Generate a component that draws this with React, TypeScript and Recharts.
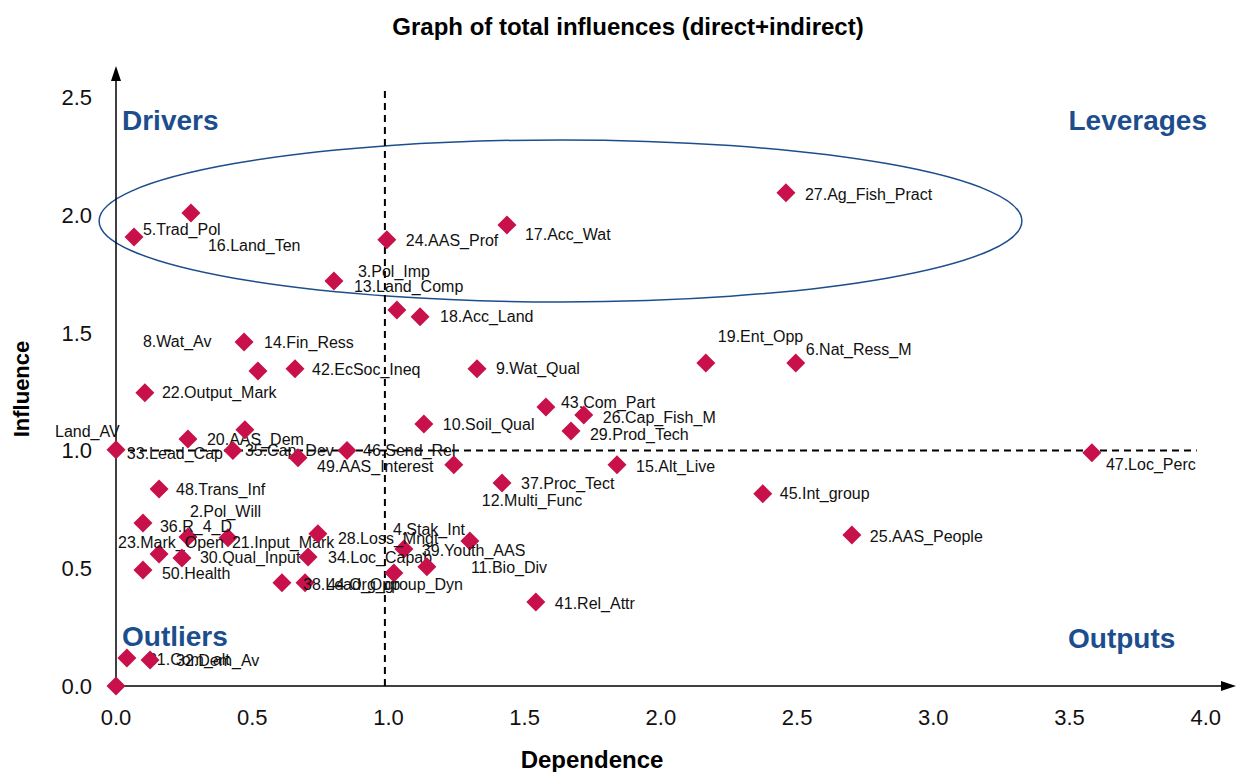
import React from 'react';
import {
  ScatterChart,
  Scatter,
  XAxis,
  YAxis,
  ReferenceLine,
  ReferenceArea,
  ReferenceDot,
} from 'recharts';

// ---------- data ----------
const variables = [
  'Land_AV', '2.Pol_Will', '3.Pol_Imp', '4.Stak_Int', '5.Trad_Pol', '6.Nat_Ress_M', '7', '8.Wat_Av',
  '9.Wat_Qual', '10.Soil_Qual', '11.Bio_Div', '12.Multi_Func', '13.Land_Comp', '14.Fin_Ress',
  '15.Alt_Live', '16.Land_Ten', '17.Acc_Wat', '18.Acc_Land', '19.Ent_Opp', '20.AAS_Dem',
  '21.Input_Mark', '22.Output_Mark', '23.Mark_Open', '24.AAS_Prof', '25.AAS_People',
  '26.Cap_Fish_M', '27.Ag_Fish_Pract', '28.Loss_Mngt', '29.Prod_Tech', '30.Qual_Input',
  '31.Com_alt', '32.Dem_Av', '33.Lead_Cap', '34.Loc_Capab', '35.Cap_Dev', '36.R_4_D',
  '37.Proc_Tect', '38.Lead_Opp', '39.Youth_AAS', '40', '41.Rel_Attr', '42.EcSoc_Ineq',
  '43.Com_Part', '44.Org_group_Dyn', '45.Int_group', '46.Send_Rel', '47.Loc_Perc',
  '48.Trans_Inf', '49.AAS_Interest', '50.Health',
];

const dependence = [
  0.0, 0.264, 0.8, 1.057, 0.066, 2.495, 1.02, 0.521,
  1.325, 1.13, 1.299, 1.24, 1.031, 0.47,
  1.839, 0.275, 1.435, 1.116, 2.165, 0.264,
  0.411, 0.106, 0.158, 0.994, 2.701,
  1.717, 2.459, 0.741, 1.67, 0.242,
  0.04, 0.125, 0.473, 0.705, 0.429, 0.099,
  1.417, 0.694, 1.141, 0.0, 1.541, 0.657,
  1.578, 0.609, 2.374, 0.848, 3.582,
  0.158, 0.668, 0.099,
];

const influence = [
  1.003, 0.633, 1.72, 0.582, 1.907, 1.372, 0.48, 1.338,
  1.347, 1.113, 0.616, 0.939, 1.597, 1.461,
  0.939, 2.009, 1.958, 1.568, 1.372, 1.049,
  0.629, 1.245, 0.561, 1.895, 0.641,
  1.151, 2.094, 0.646, 1.083, 0.544,
  0.119, 0.11, 1.088, 0.548, 1.0, 0.692,
  0.862, 0.438, 0.506, 0.0, 0.357, 1.347,
  1.185, 0.438, 0.816, 1.0, 0.99,
  0.837, 0.969, 0.493,
];

const xTicks = [0, 0.5, 1, 1.5, 2, 2.5, 3, 3.5, 4];
const yTicks = [0, 0.5, 1, 1.5, 2, 2.5];

const meanDependence = 0.987;
const meanInfluence = 1.0;

const chartTitle = 'Graph of total influences (direct+indirect)';
const xTitle = 'Dependence';
const yTitle = 'Influence';
const quadrantNames = ['Drivers', 'Leverages', 'Outliers', 'Outputs'];

// ---------- layout / style ----------
const W = 1237;
const H = 772;
const FONT = '"Liberation Sans", Arial, sans-serif';
const RED = '#C8104B';
const BLUE = '#1C4E8E';

// label placement relative to each marker (pixels)
const labelOffsets: Record<string, [number, number]> = {
  'Land_AV': [-61, -18],
  '2.Pol_Will': [2, -25],
  '3.Pol_Imp': [24, -9],
  '4.Stak_Int': [-11, -19],
  '5.Trad_Pol': [9, -7],
  '6.Nat_Ress_M': [10, -13],
  '8.Wat_Av': [-115, -29],
  '9.Wat_Qual': [19, 0],
  '10.Soil_Qual': [19, 1],
  '11.Bio_Div': [1, 27],
  '12.Multi_Func': [28, 36],
  '13.Land_Comp': [-43, -23],
  '14.Fin_Ress': [20, 1],
  '15.Alt_Live': [19, 2],
  '16.Land_Ten': [17, 33],
  '17.Acc_Wat': [18, 10],
  '18.Acc_Land': [20, 0],
  '19.Ent_Opp': [12, -26],
  '20.AAS_Dem': [19, 1],
  '21.Input_Mark': [4, 5],
  '22.Output_Mark': [17, 0],
  '23.Mark_Open': [-41, -11],
  '24.AAS_Prof': [19, 1],
  '25.AAS_People': [18, 1],
  '26.Cap_Fish_M': [19, 3],
  '27.Ag_Fish_Pract': [19, 2],
  '28.Loss_Mngt': [20, 5],
  '29.Prod_Tech': [19, 4],
  '30.Qual_Input': [18, 0],
  '31.Com_alt': [21, 2],
  '32.Dem_Av': [26, 0],
  '33.Lead_Cap': [-118, 24],
  '34.Loc_Capab': [20, 1],
  '35.Cap_Dev': [12, 0],
  '36.R_4_D': [17, 3],
  '37.Proc_Tect': [19, 0],
  '38.Lead_Opp': [-2, 2],
  '39.Youth_AAS': [-5, -16],
  '41.Rel_Attr': [19, 2],
  '42.EcSoc_Ineq': [17, 1],
  '43.Com_Part': [15, -4],
  '44.Org_group_Dyn': [45, 2],
  '45.Int_group': [17, 0],
  '46.Send_Rel': [16, 0],
  '47.Loc_Perc': [14, 12],
  '48.Trans_Inf': [17, 1],
  '49.AAS_Interest': [19, 9],
  '50.Health': [19, 4],
};

const points = variables.map((name, i) => ({
  name,
  x: dependence[i],
  y: influence[i],
}));

const Diamond = (props: any) => {
  const { cx, cy, payload } = props;
  if (cx == null || cy == null) return null;
  const s = 9.5;
  const off = labelOffsets[payload.name];
  return (
    <g>
      <polygon
        points={`${cx},${cy - s} ${cx + s},${cy} ${cx},${cy + s} ${cx - s},${cy}`}
        fill={RED}
      />
      {off && (
        <text
          x={cx + off[0]}
          y={cy + off[1]}
          dominantBaseline="central"
          fontFamily={FONT}
          fontSize={16}
          fill="#111"
        >
          {payload.name}
        </text>
      )}
    </g>
  );
};

const ArrowUp = (props: any) => {
  const { cx, cy } = props;
  return <polygon points={`${cx},${cy - 3} ${cx - 5},${cy + 12} ${cx + 5},${cy + 12}`} fill="#000" />;
};
const ArrowRight = (props: any) => {
  const { cx, cy } = props;
  return <polygon points={`${cx + 3},${cy} ${cx - 12},${cy - 5} ${cx - 12},${cy + 5}`} fill="#000" />;
};

const EllipseShape = (props: any) => {
  const { x, y, width, height } = props;
  return (
    <ellipse
      cx={x + width / 2}
      cy={y + height / 2}
      rx={width / 2}
      ry={height / 2}
      fill="none"
      stroke={BLUE}
      strokeWidth={1.5}
    />
  );
};

const fmt = (v: number) => v.toFixed(1);

const quadStyle = (extra: React.CSSProperties): React.CSSProperties => ({
  position: 'absolute',
  fontFamily: FONT,
  fontWeight: 'bold',
  fontSize: 28,
  lineHeight: '28px',
  color: BLUE,
  whiteSpace: 'nowrap',
  ...extra,
});

export default function App() {
  return (
    <div
      style={{
        position: 'absolute',
        left: 0,
        top: 0,
        width: W,
        height: H,
        overflow: 'hidden',
        background: '#fff',
      }}
    >
      <ScatterChart
        width={W}
        height={H}
        margin={{ top: 69, right: 4, bottom: 26, left: 56 }}
      >
        <XAxis
          type="number"
          dataKey="x"
          domain={[0, 4.1]}
          ticks={xTicks}
          tickFormatter={fmt}
          tickLine={false}
          tickSize={0}
          tickMargin={23}
          height={60}
          axisLine={{ stroke: '#000', strokeWidth: 1.5 }}
          tick={{ fill: '#111', fontSize: 22, fontFamily: FONT }}
          interval={0}
        />
        <YAxis
          type="number"
          dataKey="y"
          domain={[0, 2.62]}
          ticks={yTicks}
          tickFormatter={fmt}
          tickLine={false}
          tickSize={0}
          tickMargin={24}
          width={60}
          axisLine={{ stroke: '#000', strokeWidth: 1.5 }}
          tick={{ fill: '#111', fontSize: 22, fontFamily: FONT }}
          interval={0}
        />
        <ReferenceArea
          x1={-0.062}
          x2={3.325}
          y1={1.631}
          y2={2.319}
          ifOverflow="visible"
          shape={EllipseShape}
        />
        <ReferenceLine
          segment={[{ x: meanDependence, y: 0 }, { x: meanDependence, y: 2.532 }]}
          stroke="#000"
          strokeWidth={2}
          strokeDasharray="7 5"
          ifOverflow="visible"
        />
        <ReferenceLine
          segment={[{ x: 0, y: meanInfluence }, { x: 3.967, y: meanInfluence }]}
          stroke="#000"
          strokeWidth={2}
          strokeDasharray="7 5"
          ifOverflow="visible"
        />
        <ReferenceDot x={0} y={2.62} ifOverflow="visible" shape={ArrowUp} />
        <ReferenceDot x={4.1} y={0} ifOverflow="visible" shape={ArrowRight} />
        <Scatter data={points} shape={Diamond} isAnimationActive={false} />
      </ScatterChart>

      <div
        style={{
          position: 'absolute',
          left: 328,
          width: 600,
          top: 15,
          textAlign: 'center',
          fontFamily: FONT,
          fontWeight: 'bold',
          fontSize: 24,
          lineHeight: '24px',
          color: '#000',
          whiteSpace: 'nowrap',
        }}
      >
        {chartTitle}
      </div>
      <div
        style={{
          position: 'absolute',
          left: 292,
          width: 600,
          top: 748,
          textAlign: 'center',
          fontFamily: FONT,
          fontWeight: 'bold',
          fontSize: 24,
          lineHeight: '24px',
          color: '#000',
          whiteSpace: 'nowrap',
        }}
      >
        {xTitle}
      </div>
      <div
        style={{
          position: 'absolute',
          left: 22 - 100,
          width: 200,
          top: 389 - 11,
          textAlign: 'center',
          fontFamily: FONT,
          fontWeight: 'bold',
          fontSize: 22,
          lineHeight: '22px',
          color: '#000',
          whiteSpace: 'nowrap',
          transform: 'rotate(-90deg)',
        }}
      >
        {yTitle}
      </div>
      <div style={quadStyle({ left: 122, top: 121 - 14 })}>{quadrantNames[0]}</div>
      <div style={quadStyle({ right: W - 1207, top: 121 - 14 })}>{quadrantNames[1]}</div>
      <div style={quadStyle({ left: 122, top: 637 - 14 })}>{quadrantNames[2]}</div>
      <div style={quadStyle({ left: 1068, top: 639 - 14 })}>{quadrantNames[3]}</div>
    </div>
  );
}
